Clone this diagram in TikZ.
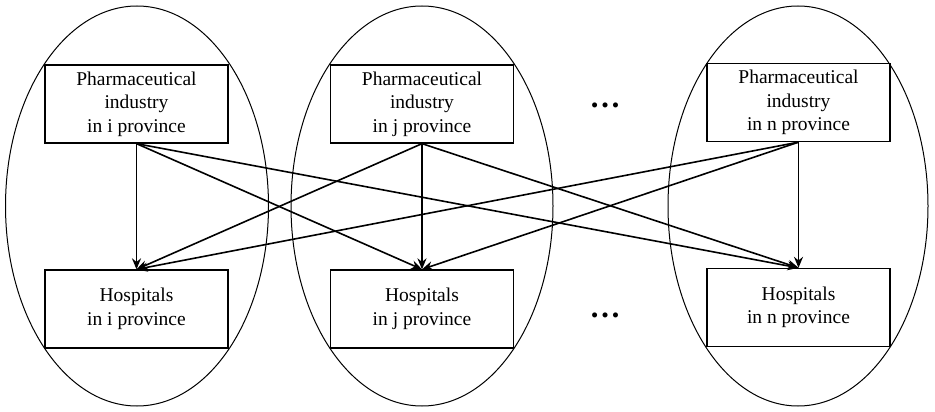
\documentclass[tikz,border=0pt]{standalone}
\usepackage{fontspec}
\setmainfont{Liberation Serif}
\newfontfamily\tnrfont{Liberation Serif}
\usetikzlibrary{arrows.meta}
\begin{document}
\begin{tikzpicture}[x=1pt,y=-1pt,
  boxnode/.style={draw,line width=1.3pt,minimum width=183pt,minimum height=78pt,inner sep=0pt,
    align=center,font=\tnrfont\fontsize{19.5}{23.5}\selectfont},
  oval/.style={draw,line width=1pt},
  arr/.style={line width=1.6pt,-{Stealth[length=11pt,width=9pt]}},
  dotsnode/.style={font=\tnrfont\bfseries\fontsize{31}{31}\selectfont,inner sep=0pt}]
\useasboundingbox (0,0) rectangle (935,412);
\draw[oval] (137,206) ellipse [x radius=131.5, y radius=200];
\draw[oval] (422,206) ellipse [x radius=131, y radius=200];
\draw[oval] (798,206) ellipse [x radius=130, y radius=200];
\node[boxnode] (pi) at (136.5,104) {\raisebox{-2pt}{\begin{tabular}{@{}c@{}}Pharmaceutical\\industry\\in i province\end{tabular}}};
\node[boxnode] (pj) at (422,104) {\raisebox{-2pt}{\begin{tabular}{@{}c@{}}Pharmaceutical\\industry\\in j province\end{tabular}}};
\node[boxnode] (pn) at (798.5,102.5) {\raisebox{-2pt}{\begin{tabular}{@{}c@{}}Pharmaceutical\\industry\\in n province\end{tabular}}};
\node[boxnode] (hi) at (136.5,309) {Hospitals\\in i province};
\node[boxnode] (hj) at (422,309) {Hospitals\\in j province};
\node[boxnode] (hn) at (798.5,307.5) {Hospitals\\in n province};
\node[dotsnode,anchor=base] (dt) at (605,107) {…};
\node[dotsnode,anchor=base] (db) at (605,317) {…};
\foreach \s in {pi,pj,pn}{
  \foreach \t in {hi,hj,hn}{
    \draw[arr] (\s.south) -- (\t.north);
  }
}
\end{tikzpicture}
\end{document}
